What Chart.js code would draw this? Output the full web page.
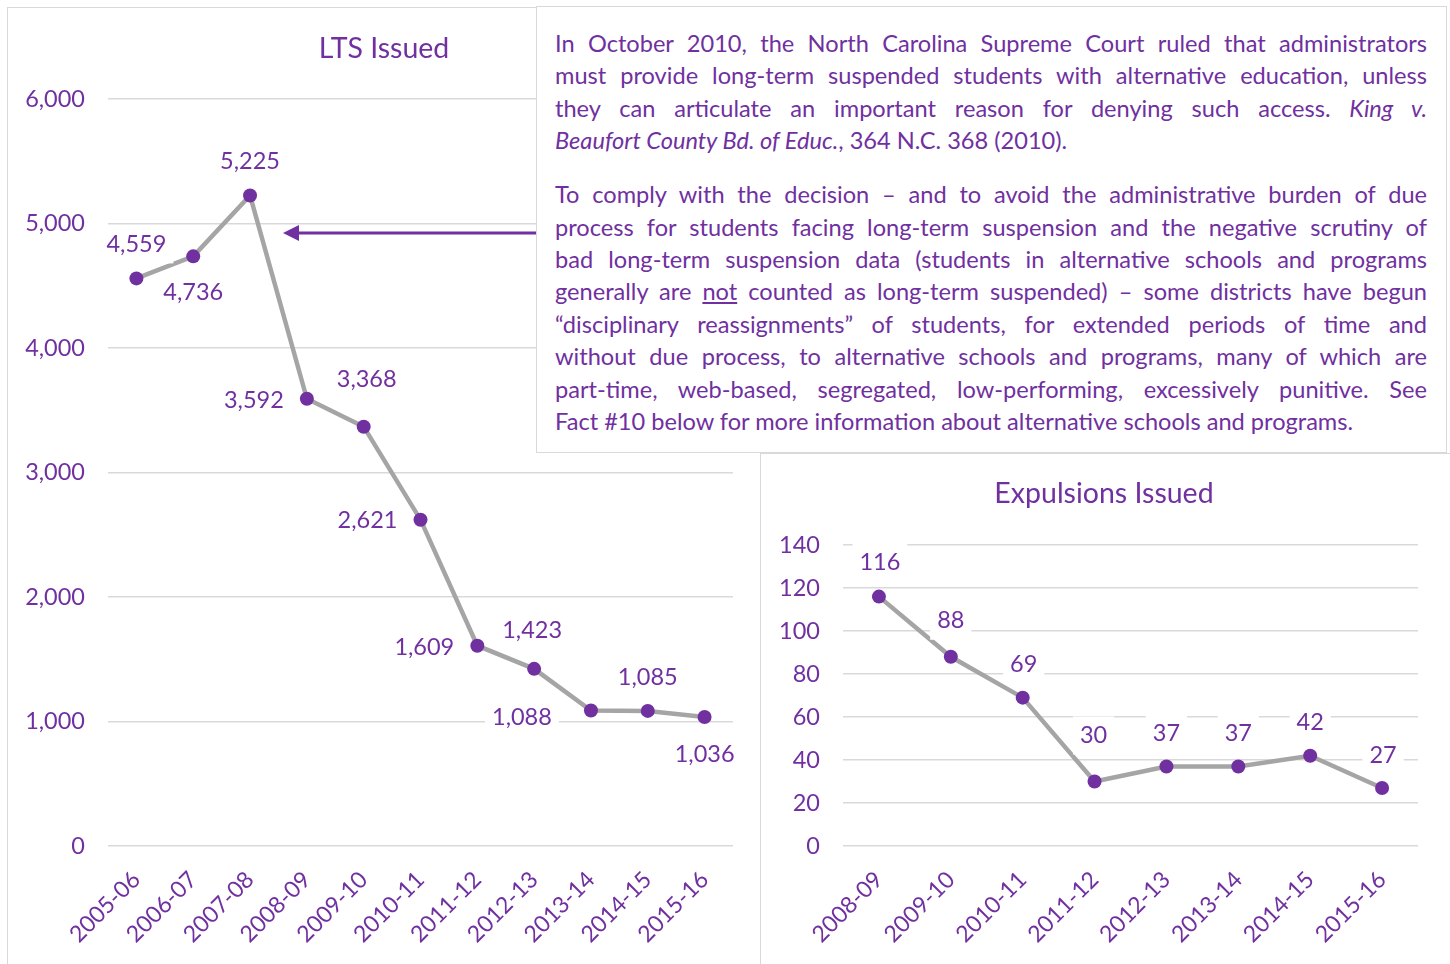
<!DOCTYPE html>
<html>
<head>
<meta charset="utf-8">
<script src="https://cdn.jsdelivr.net/npm/chart.js@4.4.1/dist/chart.umd.min.js"></script>
<style>
  html, body { margin: 0; padding: 0; background: #fff; width: 1450px; height: 964px; overflow: hidden; font-family: Lato, sans-serif; }
  .panel { position: absolute; background: #fff; border: 1.5px solid #d9d9d9; box-sizing: border-box; }
  #ltsPanel { left: 7px; top: 7px; width: 780px; height: 990px; }
  #expPanel { left: 760px; top: 453px; width: 700px; height: 530px; }
  canvas { position: absolute; }
  #ltsCanvas { left: 7px; top: 7px; }
  #expCanvas { left: 761px; top: 454px; }
  #arrow { position: absolute; left: 0; top: 0; }
  #note {
    position: absolute; left: 536px; top: 6px; width: 911px; height: 447px;
    box-sizing: border-box; background: #fff; border: 1.5px solid #d9d9d9;
    padding: 20px 19px 0 18px; color: #7030A0; font-size: 22px; line-height: 32.4px;
    font-family: Lato, sans-serif;
  }
  #note .ln { text-align: justify; text-align-last: justify; white-space: nowrap; }
  #note .ln.last { text-align-last: left; }
  #note .gap { height: 21.6px; }
  #note.measure .ln { text-align: left; text-align-last: left; }
  #note.measure .ln span.t { display: inline-block; }
</style>
</head>
<body>
<div class="panel" id="ltsPanel"></div>
<canvas id="ltsCanvas" width="754" height="957"></canvas>
<svg id="arrow" width="1450" height="964">
  <line x1="538" y1="233" x2="296" y2="233" stroke="#7030A0" stroke-width="3"/>
  <polygon points="283,233 299,225 299,241" fill="#7030A0"/>
</svg>
<div id="note">
  <div class="ln"><span class="t">In October 2010, the North Carolina Supreme Court ruled that administrators</span></div>
  <div class="ln"><span class="t">must provide long-term suspended students with alternative education, unless</span></div>
  <div class="ln"><span class="t">they can articulate an important reason for denying such access. <i>King v.</i></span></div>
  <div class="ln last"><span class="t"><i>Beaufort County Bd. of Educ.</i>, 364 N.C. 368 (2010).</span></div>
  <div class="gap"></div>
  <div class="ln"><span class="t">To comply with the decision – and to avoid the administrative burden of due</span></div>
  <div class="ln"><span class="t">process for students facing long-term suspension and the negative scrutiny of</span></div>
  <div class="ln"><span class="t">bad long-term suspension data (students in alternative schools and programs</span></div>
  <div class="ln"><span class="t">generally are <u>not</u> counted as long-term suspended) – some districts have begun</span></div>
  <div class="ln"><span class="t">“disciplinary reassignments” of students, for extended periods of time and</span></div>
  <div class="ln"><span class="t">without due process, to alternative schools and programs, many of which are</span></div>
  <div class="ln"><span class="t">part-time, web-based, segregated, low-performing, excessively punitive. See</span></div>
  <div class="ln last"><span class="t">Fact #10 below for more information about alternative schools and programs.</span></div>
</div>
<div class="panel" id="expPanel"></div>
<canvas id="expCanvas" width="686" height="510"></canvas>

<script>
// LTS Issued
const ltsYears = ["2005-06", "2006-07", "2007-08", "2008-09", "2009-10", "2010-11",
                  "2011-12", "2012-13", "2013-14", "2014-15", "2015-16"];
const ltsValues = [4559, 4736, 5225, 3592, 3368, 2621, 1609, 1423, 1088, 1085, 1036];

// Expulsions Issued
const expYears = ["2008-09", "2009-10", "2010-11", "2011-12", "2012-13", "2013-14", "2014-15", "2015-16"];
const expValues = [116, 88, 69, 30, 37, 37, 42, 27];

// where each value label sits relative to its point (dx, dy)
const ltsLabelPos = [[0, -34], [0, 36], [0, -34], [-53, 2], [3, -47], [-53, 1],
                     [-53, 2], [-2, -38], [-69, 7], [0, -33], [0, 37]];
const expLabelPos = [[1, -34], [0, -36], [1, -33], [-1, -46], [0, -33], [0, -33], [0, -33], [1, -33]];

const PURPLE = "#7030A0";
const LINE_GREY = "#A5A5A5";
const GRID = "#d9d9d9";
const FONT = "Lato";

Chart.defaults.font.family = FONT;
Chart.defaults.color = PURPLE;

// fit the note text so the longest line fills the box width (capped size)
function fitNote() {
  const note = document.getElementById("note");
  note.style.fontSize = "22px";
  note.classList.add("measure");
  let maxW = 0;
  note.querySelectorAll(".ln span.t").forEach(s => { maxW = Math.max(maxW, s.getBoundingClientRect().width); });
  const size = Math.min(23.6, 22 * 871 / maxW);
  note.style.fontSize = size.toFixed(2) + "px";
  note.classList.remove("measure");
}
fitNote();
Promise.all([
  document.fonts.load("22px Lato"),
  document.fonts.load("italic 22px Lato")
]).then(fitNote, fitNote);

// chart title centred on the whole chart object, like the spreadsheet does
const objectTitle = {
  id: "objectTitle",
  afterDraw(chart, args, opts) {
    const { ctx } = chart;
    ctx.save();
    ctx.font = `${opts.size}px ${FONT}`;
    ctx.fillStyle = PURPLE;
    ctx.textAlign = "center";
    ctx.textBaseline = "middle";
    ctx.fillText(opts.text, chart.width / 2, opts.y);
    ctx.restore();
  }
};

const valueLabels = {
  id: "valueLabels",
  afterDatasetsDraw(chart, args, opts) {
    const { ctx } = chart;
    const meta = chart.getDatasetMeta(0);
    const vals = chart.data.datasets[0].data;
    ctx.save();
    ctx.font = `23.5px ${FONT}`;
    ctx.textAlign = "center";
    ctx.textBaseline = "middle";
    meta.data.forEach((pt, i) => {
      const [dx, dy] = opts.pos[i];
      const x = pt.x + dx, y = pt.y + dy;
      const txt = vals[i].toLocaleString("en-US");
      const w = ctx.measureText(txt).width + 14;
      ctx.fillStyle = "#fff";
      ctx.fillRect(x - w / 2, y - 19, w, 38);
      ctx.fillStyle = PURPLE;
      ctx.fillText(txt, x, y);
    });
    ctx.restore();
  }
};

function makeChart(id, title, titleY, labels, values, yMax, yStep, yWidth, padTop, padRight, labelPos) {
  return new Chart(document.getElementById(id), {
    type: "line",
    data: {
      labels: labels,
      datasets: [{
        data: values,
        borderColor: LINE_GREY,
        borderWidth: 4.5,
        pointRadius: 7,
        pointHoverRadius: 7,
        pointBackgroundColor: PURPLE,
        pointBorderColor: PURPLE,
        pointBorderWidth: 0,
        tension: 0,
        fill: false
      }]
    },
    options: {
      responsive: false,
      animation: false,
      events: [],
      layout: { padding: { left: 0, right: padRight, top: padTop, bottom: 0 } },
      plugins: {
        legend: { display: false },
        tooltip: { enabled: false },
        title: { display: false },
        objectTitle: { text: title, y: titleY, size: 28.5 },
        valueLabels: { pos: labelPos }
      },
      scales: {
        x: {
          offset: true,
          grid: { display: false, drawTicks: false },
          border: { display: false },
          ticks: { color: PURPLE, font: { size: 23 }, minRotation: 45, maxRotation: 45, padding: 20, autoSkip: false },
          afterFit: s => { s.height = 118; }
        },
        y: {
          min: 0,
          max: yMax,
          grid: { color: GRID, lineWidth: 1.5, drawTicks: false },
          border: { display: false },
          ticks: { stepSize: yStep, color: PURPLE, font: { size: 23.5 }, padding: 23 },
          afterFit: s => { s.width = yWidth; }
        }
      }
    },
    plugins: [valueLabels, objectTitle]
  });
}

makeChart("ltsCanvas", "LTS Issued", 42, ltsYears, ltsValues, 6000, 1000, 101, 92, 28, ltsLabelPos);
makeChart("expCanvas", "Expulsions Issued", 40, expYears, expValues, 140, 20, 82, 91, 29, expLabelPos);
</script>
</body>
</html>
